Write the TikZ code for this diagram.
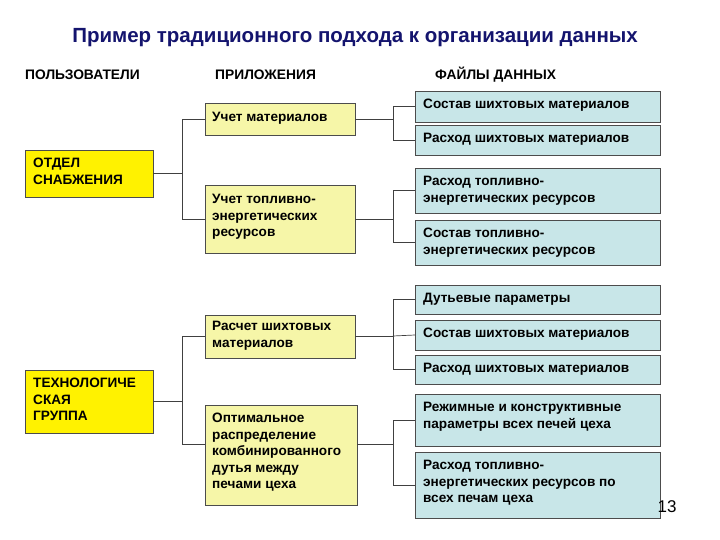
\documentclass[tikz,border=0pt]{standalone}
\usepackage{fontspec}
\setmainfont{Liberation Sans}
\begin{document}
\begin{tikzpicture}[x=1pt,y=-1pt,
 box/.style={draw=black!70,line width=0.8pt},
 usr/.style={box,fill={rgb,255:red,255;green,242;blue,0}},
 app/.style={box,fill={rgb,255:red,246;green,246;blue,168}},
 fil/.style={box,fill={rgb,255:red,200;green,230;blue,232}},
 txt/.style={anchor=north west,align=left,font=\fontsize{13.6}{16.5}\selectfont\bfseries,inner sep=0pt},
 hdr/.style={anchor=west,font=\fontsize{13.8}{16}\selectfont\bfseries,inner sep=0pt},
 ln/.style={draw=black!75,line width=0.7pt,line join=miter}]
\useasboundingbox (0,0) rectangle (720,540);
\fill[white] (0,0) rectangle (720,540);
\node[font=\fontsize{20.5}{24}\selectfont\bfseries,text={rgb,255:red,20;green,20;blue,110}] (title) at (355,38) {Пример традиционного подхода к организации данных};
\node[hdr] (h1) at (25,75) {ПОЛЬЗОВАТЕЛИ};
\node[hdr] (h2) at (215,75) {ПРИЛОЖЕНИЯ};
\node[hdr] (h3) at (435,75) {ФАЙЛЫ ДАННЫХ};
% users
\draw[usr] (25,150) rectangle (153,197);
\coordinate (u1) at (153,173);
\node[txt] at (33,158) {ОТДЕЛ\\СНАБЖЕНИЯ};
\draw[usr] (25,370) rectangle (153,433);
\coordinate (u2) at (153,401);
\node[txt] at (33,378) {ТЕХНОЛОГИЧЕ\\СКАЯ\\ГРУППА};
% apps
\draw[app] (205,103) rectangle (355,135); \coordinate (a1l) at (205,119); \coordinate (a1r) at (355,119);
\node[txt] at (212,112) {Учет материалов};
\draw[app] (205,185) rectangle (355,253); \coordinate (a2l) at (205,219); \coordinate (a2r) at (355,219);
\node[txt] at (212,194) {Учет топливно-\\энергетических\\ресурсов};
\draw[app] (205,315) rectangle (355,358); \coordinate (a3l) at (205,336); \coordinate (a3r) at (355,336);
\node[txt] at (212,321) {Расчет шихтовых\\материалов};
\draw[app] (205,405) rectangle (357,505); \coordinate (a4l) at (205,444); \coordinate (a4r) at (357,444);
\node[txt] at (212,413) {Оптимальное\\распределение\\комбинированного\\дутья между\\печами цеха};
% files
\foreach \n/\ya/\yb/\t in {f1/91/122/{Состав шихтовых материалов},
 f2/125/155/{Расход шихтовых материалов},
 f3/168/213/{Расход топливно-\\энергетических ресурсов},
 f4/220/265/{Состав топливно-\\энергетических ресурсов},
 f5/285/314/{Дутьевые параметры},
 f6/320/350/{Состав шихтовых материалов},
 f7/355/384/{Расход шихтовых материалов},
 f8/394/446/{Режимные и конструктивные\\параметры всех печей цеха},
 f9/452/518/{Расход топливно-\\энергетических ресурсов по\\всех печам цеха}}{
 \draw[fil] (415,\ya) rectangle (660,\yb);
 \coordinate (\n) at (415,{(\ya+\yb)/2});
 \node[txt] at (423,\ya+8) {\t};
}
% connectors
\draw[ln] (u1) -- (182,173);
\draw[ln] (a1l) -- (182,119) -- (182,219) -- (a2l);
\draw[ln] (u2) -- (182,401);
\draw[ln] (a3l) -- (182,336) -- (182,444) -- (a4l);
\draw[ln] (a1r) -- (393,119);
\draw[ln] (f1) -- (393,106.5) -- (393,140) -- (f2);
\draw[ln] (a2r) -- (393,219);
\draw[ln] (f3) -- (393,190.5) -- (393,242.5) -- (f4);
\draw[ln] (a3r) -- (393,336);
\draw[ln] (f5) -- (393,299.5) -- (393,369.5) -- (f7);
\draw[ln] (393,336) -- (f6);
\draw[ln] (a4r) -- (393,444);
\draw[ln] (f8) -- (393,420) -- (393,485) -- (f9);
\node[font=\fontsize{17}{20}\selectfont] (pg) at (667,507) {13};
\end{tikzpicture}
\end{document}
